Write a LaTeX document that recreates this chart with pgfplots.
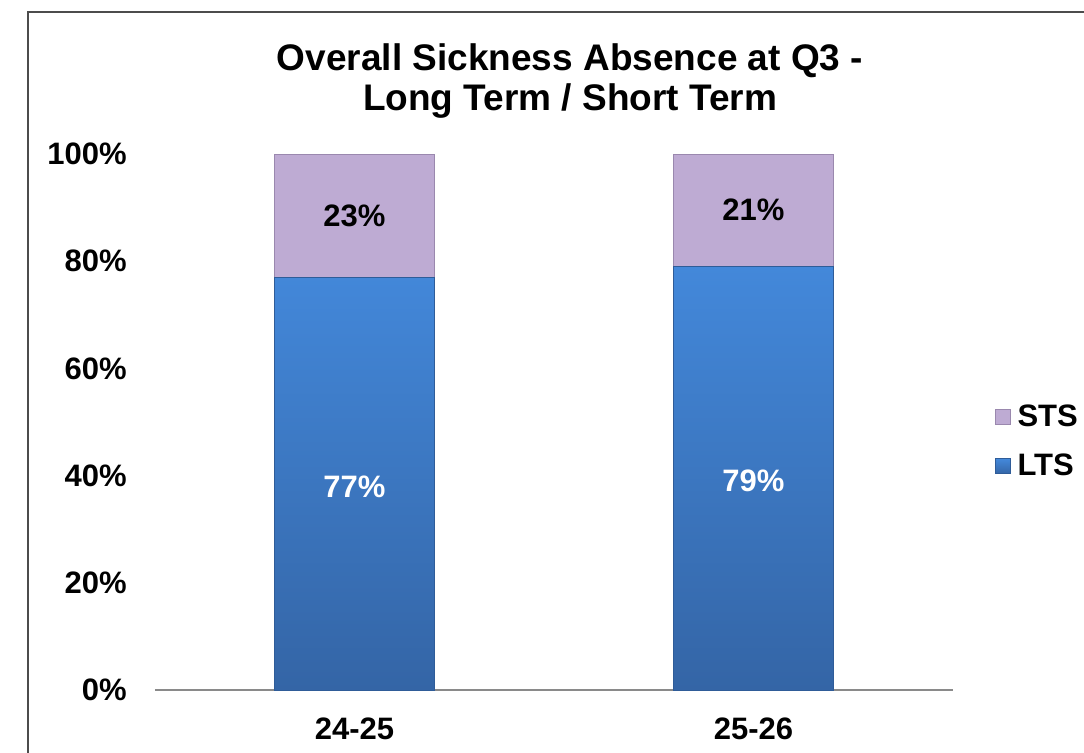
\documentclass[border=0pt]{standalone}
\usepackage{pgfplots}
\pgfplotsset{compat=1.18}
\usepackage{fontspec}
\setmainfont{Liberation Sans}
\definecolor{stsfill}{HTML}{BEABD3}
\definecolor{stsedge}{HTML}{9A88AE}
\definecolor{ltstop}{HTML}{4388DA}
\definecolor{ltsbot}{HTML}{3465A6}
\definecolor{ltsedge}{HTML}{2F5C98}
\definecolor{axgray}{HTML}{8A8A8A}
\begin{document}
\begin{tikzpicture}
\useasboundingbox (0,0) rectangle (542pt,376pt);
\draw[gray!60!black, line width=0.8pt] (14pt,-2pt) -- (14pt,370pt) -- (546pt,370pt);
\node[font=\bfseries\fontsize{18.5}{20}\selectfont, align=center] at (285pt,335.5pt) {Overall Sickness Absence at Q3 -\\Long Term / Short Term};
\begin{axis}[
  at={(77.5pt,31pt)}, anchor=south west,
  scale only axis, width=399pt, height=268pt,
  ybar stacked, bar width=80pt,
  xmin=-0.5, xmax=1.5, ymin=0, ymax=100,
  axis x line*=bottom, axis y line*=left,
  x axis line style={draw=axgray, line width=0.8pt},
  y axis line style={draw=none},
  xtick={0,1}, xticklabels={24-25,25-26},
  xtick style={draw=none},
  extra x ticks={-0.5,0.5,1.5}, extra x tick labels={},
  extra x tick style={tick style={draw=axgray, line width=0.8pt}, major tick length=3pt, tick align=outside},
  ytick={0,20,...,100}, ytick style={draw=none},
  yticklabel={\pgfmathprintnumber{\tick}\%},
  /pgf/number format/assume math mode=true,
  ticklabel style={font=\bfseries\fontsize{15.5}{18}\selectfont, inner sep=0pt},
  yticklabel style={anchor=east, xshift=-14pt},
  xticklabel style={anchor=north, yshift=-13.5pt},
  reverse legend,
  legend style={at={(axis description cs:1,0.4636)}, anchor=west, xshift=21pt,
    draw=none, fill=none, inner sep=0pt, outer sep=0pt, row sep=8.5pt,
    font=\bfseries\fontsize{15.5}{18}\selectfont},
  legend cell align=left,
  nodes near coords={\pgfmathprintnumber{\pgfplotspointmeta}\%},
  every node near coord/.append style={anchor=center,
    font=\bfseries\fontsize{15.5}{18}\selectfont},
]
\addplot[draw=ltsedge, line width=0.5pt, top color=ltstop, bottom color=ltsbot,
  every node near coord/.append style={text=white, yshift=-1.5pt},
  legend image code/.code={\path[draw=ltsedge, line width=0.5pt, top color=ltstop, bottom color=ltsbot] (0pt,-3.75pt) rectangle (7.5pt,3.75pt);\path[draw=none,fill=none] (9pt,0pt) circle (0pt);}]
  coordinates {(0,77) (1,79)};
\addplot[draw=stsedge, line width=0.5pt, fill=stsfill,
  every node near coord/.append style={text=black},
  legend image code/.code={\path[draw=stsedge, line width=0.5pt, fill=stsfill] (0pt,-3.75pt) rectangle (7.5pt,3.75pt);\path[draw=none,fill=none] (9pt,0pt) circle (0pt);}]
  coordinates {(0,23) (1,21)};
\legend{LTS,STS}
\end{axis}
\end{tikzpicture}
\end{document}
